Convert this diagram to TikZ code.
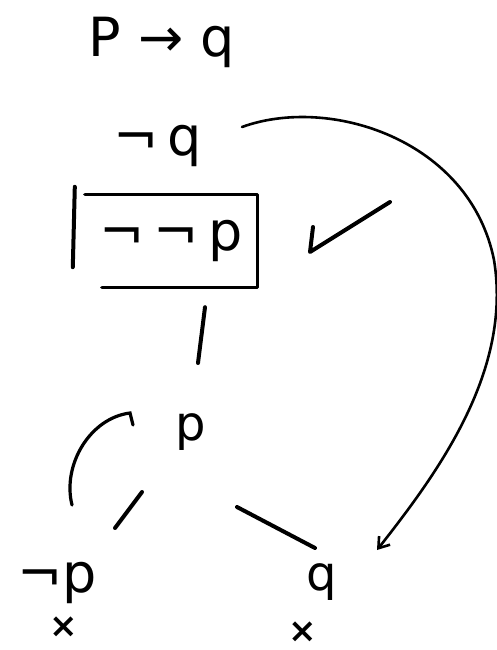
\documentclass[tikz,border=0pt]{standalone}
\usepackage{fontspec}
\setmainfont{DejaVu Sans}
\usetikzlibrary{arrows.meta,calc}
\begin{document}
\begin{tikzpicture}[x=1pt,y=-1pt,
  lbl/.style={inner sep=0pt,font=\fontsize{54}{58}\selectfont},
  small/.style={inner sep=0pt,font=\fontsize{48}{52}\selectfont},
  smallq/.style={inner sep=0pt,font=\fontsize{48}{52}\selectfont},
  cross/.style={inner sep=0pt,font=\fontsize{34}{36}\selectfont\bfseries},
  conn/.style={line width=4pt,line cap=round,line join=round},
  arcline/.style={line width=2.6pt,line cap=round},
  boxline/.style={line width=3.2pt,line cap=round,line join=round}]
\useasboundingbox (0,0) rectangle (496,650);
\fill[white] (0,0) rectangle (496,650);
% nodes
\node[lbl] (prem) at (162,42) {P → q};
\node[lbl] (nq) at (158,146) {¬\,q};
\node[lbl,minimum width=172pt,minimum height=92pt] (box) at (171,241) {¬\,¬\,p};
\node[small] (p) at (191,432) {p};
\node[lbl] (np) at (57,583) {¬p};
\node[smallq] (q) at (322,582) {q};
\node[cross] (xl) at (64,627) {×};
\node[cross] (xr) at (303,632) {×};
% box outline (open at bottom left) and side bar
\draw[boxline] ([xshift=17pt]box.south west) -- (box.south east) -- (box.north east) -- (box.north west);
\draw[conn] ([shift={(-10,-8)}]box.north west) -- ([shift={(-12,-20)}]box.south west);
% check mark
\draw[conn] (313,227) -- (310,252) -- (390,202);
% tree lines
\draw[conn] ([shift={(34,20)}]box.south) -- ([shift={(7,-69)}]p.center);
\draw[conn] ([shift={(-49,60)}]p.center) -- ([shift={(58,-55)}]np.center);
\draw[conn] ([shift={(46,75)}]p.center) -- ([shift={(-7,-34)}]q.center);
% small arc from not-p back to p
\draw[arcline,line width=3.2pt] ([shift={(15,-78)}]np.center) .. controls ([shift={(5,-118)}]np.center) and ([shift={(-101,-14)}]p.center) .. ([shift={(-61,-19)}]p.center) -- ([shift={(-58,-7)}]p.center);
% big arc from not-q to q
\draw[arcline,-{Straight Barb[length=10pt,width=14pt]}] ([shift={(84,-19)}]nq.center) .. controls (330,95) and (470,140) .. (494,260) .. controls (512,370) and (440,470) .. ([shift={(55,-32)}]q.center);
\end{tikzpicture}
\end{document}
